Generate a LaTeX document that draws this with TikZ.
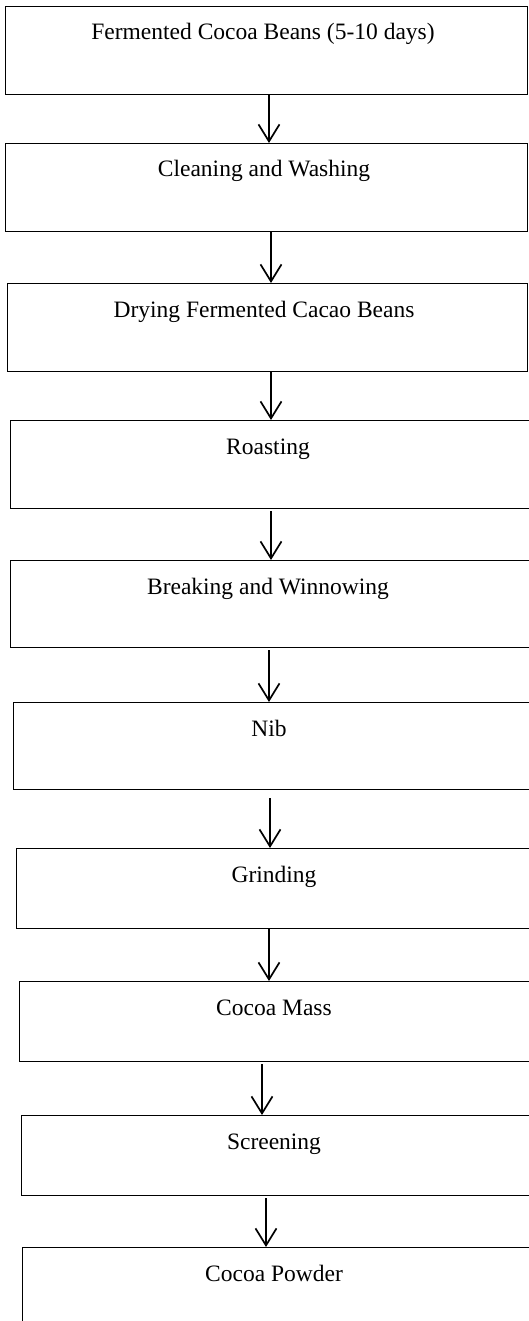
\documentclass[tikz,border=0pt]{standalone}
\usepackage{fontspec}
\setmainfont{Liberation Serif}
\usepackage{tikz}
\usetikzlibrary{arrows.meta}

\tikzset{
  stepbox/.style={draw, line width=1pt, anchor=north west, inner sep=0pt, minimum height=88pt},
  steptext/.style={anchor=base, inner sep=0pt, font=\fontsize{23.5}{27}\selectfont},
  flow/.style={line width=1.7pt, -{Straight Barb[length=17pt, width=21pt, line width=1.7pt]}}
}

\begin{document}
\begin{tikzpicture}[x=1pt, y=-1pt]
\useasboundingbox (0,0) rectangle (529,1321);

% boxes
\node[stepbox, minimum width=522pt] (ferm) at (5,6) {};
\node[stepbox, minimum width=522pt] (clean) at (5,143) {};
\node[stepbox, minimum width=520pt] (dry) at (7,283) {};
\node[stepbox, minimum width=530pt] (roast) at (10,420) {};
\node[stepbox, minimum width=530pt, minimum height=87pt] (winnow) at (10,560) {};
\node[stepbox, minimum width=530pt, minimum height=87pt] (nib) at (13,702) {};
\node[stepbox, minimum width=530pt, minimum height=80pt] (grind) at (16,848) {};
\node[stepbox, minimum width=530pt, minimum height=80pt] (mass) at (19,981) {};
\node[stepbox, minimum width=530pt, minimum height=80pt] (screen) at (21,1115) {};
\node[stepbox, minimum width=530pt, minimum height=120pt] (powder) at (22,1247) {};

% labels
\node[steptext] (ferm-t) at (263,40) {Fermented Cocoa Beans (5-10 days)};
\node[steptext] (clean-t) at (264,177) {Cleaning and Washing};
\node[steptext] (dry-t) at (264,317) {Drying Fermented Cacao Beans};
\node[steptext] (roast-t) at (268,454) {Roasting};
\node[steptext] (winnow-t) at (268,594) {Breaking and Winnowing};
\node[steptext] (nib-t) at (269,736) {Nib};
\node[steptext] (grind-t) at (274,882) {Grinding};
\node[steptext] (mass-t) at (274,1015) {Cocoa Mass};
\node[steptext] (screen-t) at (274,1149) {Screening};
\node[steptext] (powder-t) at (274,1281) {Cocoa Powder};

% arrows
\draw[flow] (ferm.south -| 269,0) -- (clean.north -| 269,0);
\draw[flow] (clean.south -| 271,0) -- (dry.north -| 271,0);
\draw[flow] (dry.south -| 271,0) -- (roast.north -| 271,0);
\draw[flow] ([yshift=-2pt]roast.south -| 271,0) -- (winnow.north -| 271,0);
\draw[flow] ([yshift=-2pt]winnow.south -| 269,0) -- (nib.north -| 269,0);
\draw[flow] ([yshift=-8pt]nib.south -| 270,0) -- (grind.north -| 270,0);
\draw[flow] (grind.south -| 269,0) -- (mass.north -| 269,0);
\draw[flow] ([yshift=-2pt]mass.south -| 262,0) -- (screen.north -| 262,0);
\draw[flow] ([yshift=-2pt]screen.south -| 266,0) -- (powder.north -| 266,0);
\end{tikzpicture}
\end{document}
